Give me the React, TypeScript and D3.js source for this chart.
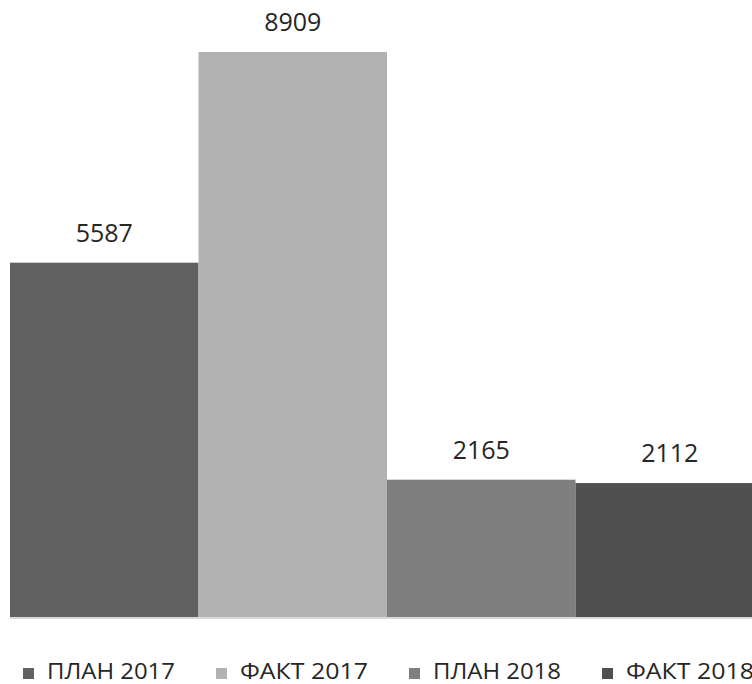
import React from 'react';
import * as d3 from 'd3';

// Values
const categories = ['ПЛАН 2017', 'ФАКТ 2017', 'ПЛАН 2018', 'ФАКТ 2018'];
const values = [5587, 8909, 2165, 2112];
const colors = ['#616161', '#b2b2b2', '#7f7f7f', '#505050'];

const W = 752;
const H = 684;

const App = () => {
    // Bars fill the width edge to edge, the last one runs off the frame
    const x = d3.scaleBand<string>()
        .domain(categories)
        .range([10, 764])
        .padding(0);

    const y = d3.scaleLinear()
        .domain([0, d3.max(values) as number])
        .range([617, 52]);

    const legendStep = 193;

    return (
        <svg
            width={W}
            height={H}
            style={{ position: 'absolute', left: 0, top: 0, background: '#fff' }}
        >
            {/* baseline */}
            <line x1={10} x2={W} y1={y(0) + 1} y2={y(0) + 1} stroke="#d9d9d9" strokeWidth={2} />

            {categories.map((c, i) => (
                <g key={c}>
                    <rect
                        x={x(c)}
                        y={y(values[i])}
                        width={x.bandwidth()}
                        height={y(0) - y(values[i])}
                        fill={colors[i]}
                    />
                    <text
                        x={(x(c) as number) + x.bandwidth() / 2}
                        y={y(values[i]) - 21}
                        textAnchor="middle"
                        fontFamily="'Open Sans', sans-serif"
                        fontSize={25}
                        fill="#262626"
                    >
                        {values[i]}
                    </text>
                </g>
            ))}

            {/* legend */}
            {categories.map((c, i) => {
                const lx = 23 + i * legendStep;
                return (
                    <g key={'lg' + c}>
                        <rect x={lx} y={668} width={11} height={11} fill={colors[i]} />
                        <text
                            x={lx + 24}
                            y={679}
                            fontFamily="'Open Sans', sans-serif"
                            fontSize={21}
                            fill="#262626"
                            textLength={128}
                            lengthAdjust="spacingAndGlyphs"
                        >
                            {c}
                        </text>
                    </g>
                );
            })}
        </svg>
    );
};

export default App;
